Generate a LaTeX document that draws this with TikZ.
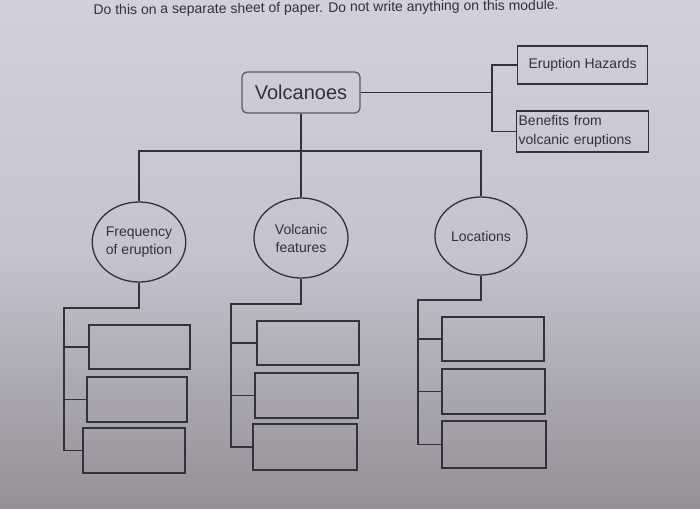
\documentclass[tikz,border=0pt]{standalone}
\usepackage{fontspec}
\setmainfont{Liberation Sans}
\usetikzlibrary{shapes.geometric}
\definecolor{ink}{RGB}{50,50,60}
\definecolor{paperT}{RGB}{208,208,222}
\definecolor{paperM}{RGB}{196,195,208}
\definecolor{paperB}{RGB}{150,144,150}
\tikzset{
  conn/.style={draw=ink, line width=1.3pt},
  rootbox/.style={draw=ink!80, line width=1.3pt, rounded corners=5pt, minimum width=118pt, minimum height=41pt, inner sep=0pt, font=\fontsize{20}{24}\selectfont, text=ink},
  sidebox/.style={draw=ink, line width=1.3pt, minimum height=39pt, inner sep=2pt, font=\fontsize{14}{19}\selectfont, text=ink},
  topic/.style={draw=ink, line width=1.3pt, ellipse, minimum width=92pt, minimum height=80pt, inner sep=0pt, font=\fontsize{14}{18}\selectfont, text=ink, align=center},
  blank/.style={draw=ink, line width=1.6pt, minimum height=44pt, inner sep=0pt}
}
\begin{document}
\begin{tikzpicture}[x=1pt,y=-1pt]
\useasboundingbox (0,0) rectangle (700,508);
\shade[top color=paperT, bottom color=paperB, middle color=paperM] (0,0) rectangle (700,508);
\node[text=ink, font=\fontsize{14}{16}\selectfont, anchor=west, rotate=0.6] (hdr) at (90,11) {Do this on a separate sheet of paper. Do not write anything on this module.};

\node[rootbox] (volc) at (301,92.5) {Volcanoes};
\node[sidebox, anchor=west, minimum width=130pt, minimum height=38pt] (haz) at (517,65) {Eruption Hazards};
\node[sidebox, anchor=west, align=left, text width=128pt, minimum height=41pt, inner sep=2pt] (ben) at (516,131.5) {Benefits from\\volcanic eruptions};
\coordinate (jr) at (492,92.5);
\draw[conn] (volc.east) -- (jr);
\draw[conn] (haz.west) -| (jr) |- (ben.west);

\node[topic] (freq) at (139,242) {Frequency\\of eruption};
\node[topic, minimum width=94pt] (feat) at (301,238) {Volcanic\\features};
\node[topic, minimum height=78pt] (loc) at (481,236) {Locations};
\coordinate (jt) at (301,151);
\draw[conn] (volc.south) -- (feat.north);
\draw[conn] (freq.north) |- (jt) -| (loc.north);

% left column
\node[blank, minimum width=101pt] (a1) at (139.5,347) {};
\node[blank, minimum width=100pt, minimum height=45pt] (a2) at (137,399.5) {};
\node[blank, minimum width=102pt, minimum height=45pt] (a3) at (134,450.5) {};
\coordinate (ca) at (64,308);
\draw[conn] (freq.south) |- (ca) -- (ca |- a3.west) -- (a3.west);
\draw[conn] (a1.west) -- (a1.west -| ca);
\draw[conn] (a2.west) -- (a2.west -| ca);

% middle column
\node[blank, minimum width=102pt] (b1) at (308,343) {};
\node[blank, minimum width=103pt, minimum height=45pt] (b2) at (306.5,395.5) {};
\node[blank, minimum width=104pt, minimum height=46pt] (b3) at (305,447) {};
\coordinate (cb) at (231,304);
\draw[conn] (feat.south) |- (cb) -- (cb |- b3.west) -- (b3.west);
\draw[conn] (b1.west) -- (b1.west -| cb);
\draw[conn] (b2.west) -- (b2.west -| cb);

% right column
\node[blank, minimum width=102pt] (c1) at (493,339) {};
\node[blank, minimum width=103pt, minimum height=45pt] (c2) at (493.5,391.5) {};
\node[blank, minimum width=104pt, minimum height=47pt] (c3) at (494,444.5) {};
\coordinate (cc) at (418,300);
\draw[conn] (loc.south) |- (cc) -- (cc |- c3.west) -- (c3.west);
\draw[conn] (c1.west) -- (c1.west -| cc);
\draw[conn] (c2.west) -- (c2.west -| cc);
\end{tikzpicture}
\end{document}
